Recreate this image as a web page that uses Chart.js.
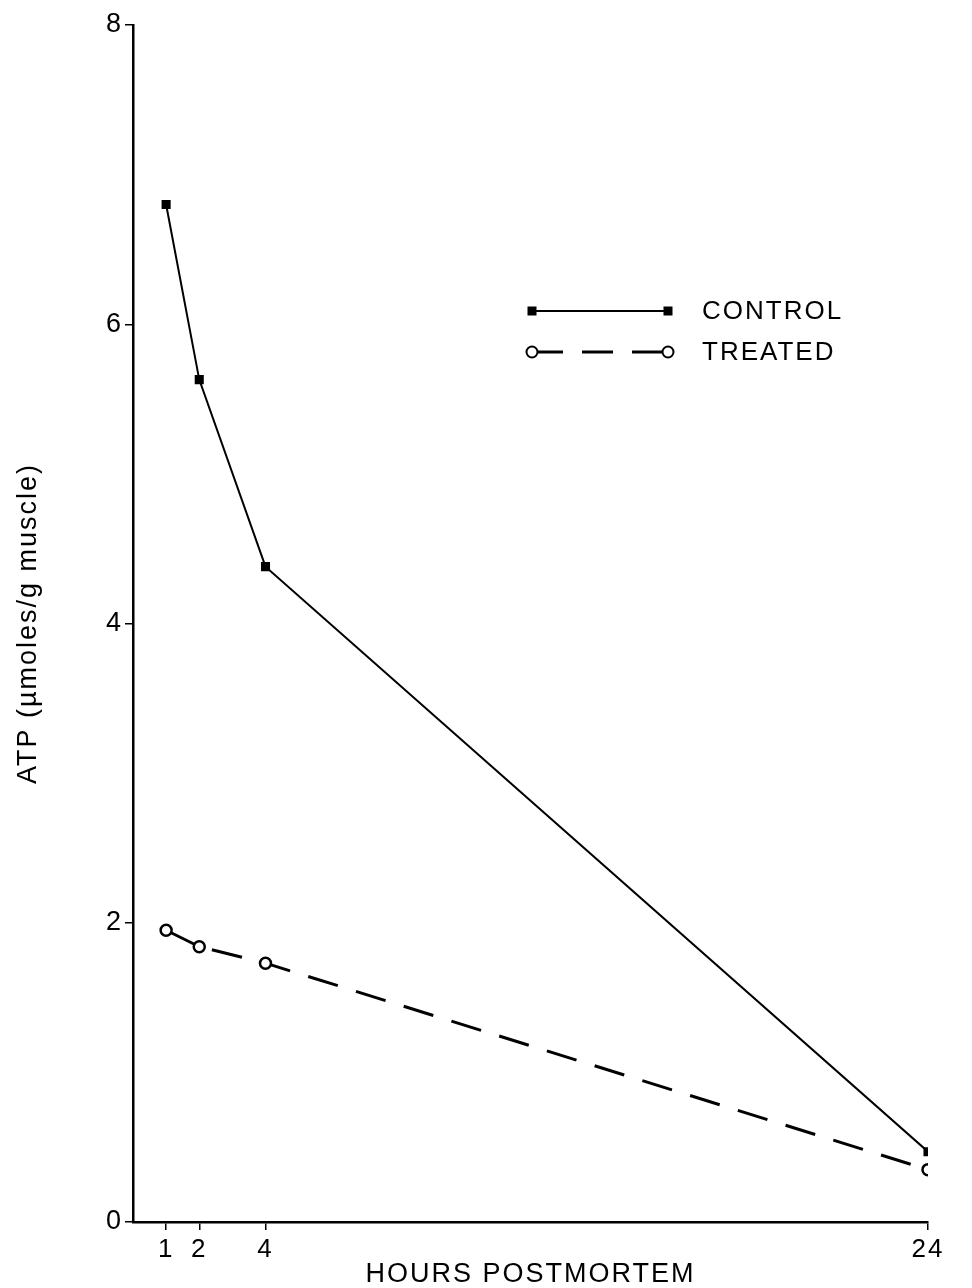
<!DOCTYPE html>
<html>
<head>
<meta charset="utf-8">
<script src="https://cdn.jsdelivr.net/npm/chart.js@4/dist/chart.umd.min.js"></script>
<style>
  html, body { margin: 0; padding: 0; background: #fff; }
  #wrap { width: 972px; height: 1288px; }
</style>
</head>
<body>
<div id="wrap"><canvas id="atpChart" width="972" height="1288"></canvas></div>
<script>
// data
const hours = [1, 2, 4, 24];
const controlAtp = [6.80, 5.63, 4.38, 0.47];
const treatedAtp = [1.95, 1.84, 1.73, 0.35];
const xTickValues = [1, 2, 4, 24];
const yTickValues = [0, 2, 4, 6, 8];
const seriesNames = ["CONTROL", "TREATED"];

const FONT = "'Liberation Sans', 'DejaVu Sans', sans-serif";

function toPoints(xs, ys) {
    return xs.map((x, i) => ({ x: x, y: ys[i] }));
}

// wider letter spacing, the original was lettered on a plotter
const spacedText = {
    id: "spacedText",
    beforeDraw(chart) {
        chart.ctx.letterSpacing = "2px";
    },
};

// legend drawn inside the plot, like the original figure
const insideLegend = {
    id: "insideLegend",
    afterDraw(chart) {
        const ctx = chart.ctx;
        const rows = [
            { y: 311, ds: chart.data.datasets[0] },
            { y: 352, ds: chart.data.datasets[1] },
        ];
        const x0 = 532, x1 = 668;
        ctx.save();
        rows.forEach((r) => {
            ctx.strokeStyle = "#000";
            ctx.lineWidth = r.ds.borderWidth;
            ctx.setLineDash(r.ds.borderDash || []);
            ctx.beginPath();
            ctx.moveTo(x0, r.y);
            ctx.lineTo(x1, r.y);
            ctx.stroke();
            ctx.setLineDash([]);
            ctx.lineWidth = 2;
            [x0, x1].forEach((px) => {
                if (r.ds.pointStyle === "rect") {
                    ctx.fillStyle = "#000";
                    ctx.fillRect(px - 4.5, r.y - 4.5, 9, 9);
                } else {
                    ctx.fillStyle = "#fff";
                    ctx.beginPath();
                    ctx.arc(px, r.y, 5.5, 0, Math.PI * 2);
                    ctx.fill();
                    ctx.stroke();
                }
            });
            ctx.fillStyle = "#000";
            ctx.font = "26px " + FONT;
            ctx.textBaseline = "middle";
            ctx.fillText(r.ds.label, 702, r.y + 1);
        });
        ctx.restore();
    },
};

const ctx = document.getElementById("atpChart").getContext("2d");
new Chart(ctx, {
    type: "line",
    data: {
        datasets: [
            {
                label: seriesNames[0],
                data: toPoints(hours, controlAtp),
                borderColor: "#000",
                borderWidth: 2,
                pointStyle: "rect",
                pointRadius: 5,
                pointBackgroundColor: "#000",
                pointBorderColor: "#000",
                fill: false,
                tension: 0,
            },
            {
                label: seriesNames[1],
                data: toPoints(hours, treatedAtp),
                borderColor: "#000",
                borderWidth: 3,
                borderDash: [31, 19],
                pointStyle: "circle",
                pointRadius: 5.5,
                pointBorderWidth: 2.5,
                pointBackgroundColor: "#fff",
                pointBorderColor: "#000",
                fill: false,
                tension: 0,
            },
        ],
    },
    options: {
        responsive: false,
        animation: false,
        layout: {
            padding: { left: 0, right: 44, top: 25, bottom: 0 },
        },
        plugins: {
            legend: { display: false },
            tooltip: { enabled: false },
        },
        scales: {
            x: {
                type: "linear",
                min: 0,
                max: 24,
                afterBuildTicks: (scale) => {
                    scale.ticks = xTickValues.map((v) => ({ value: v }));
                },
                afterFit: (scale) => {
                    scale.height = 66;
                },
                border: { display: true, color: "#000", width: 2.5 },
                grid: {
                    display: true,
                    drawOnChartArea: false,
                    drawTicks: true,
                    tickLength: 8,
                    color: "#000",
                    lineWidth: 1.5,
                },
                ticks: {
                    color: "#000",
                    font: { family: FONT, size: 26 },
                    padding: 4,
                    maxRotation: 0,
                    autoSkip: false,
                },
                title: {
                    display: true,
                    text: "HOURS POSTMORTEM",
                    color: "#000",
                    font: { family: FONT, size: 27 },
                    padding: { top: 0, bottom: -3 },
                },
            },
            y: {
                min: 0,
                max: 8,
                afterBuildTicks: (scale) => {
                    scale.ticks = yTickValues.map((v) => ({ value: v }));
                },
                afterFit: (scale) => {
                    scale.width = 133;
                },
                border: { display: true, color: "#000", width: 2.5 },
                grid: {
                    display: true,
                    drawOnChartArea: false,
                    drawTicks: true,
                    tickLength: 8,
                    color: "#000",
                    lineWidth: 1.5,
                },
                ticks: {
                    color: "#000",
                    font: { family: FONT, size: 27 },
                    padding: 2,
                },
                title: {
                    display: true,
                    text: "ATP (\u00b5moles/g muscle)",
                    color: "#000",
                    font: { family: FONT, size: 27 },
                    padding: { top: 12, bottom: 0 },
                },
            },
        },
    },
    plugins: [spacedText, insideLegend],
});
</script>
</body>
</html>
